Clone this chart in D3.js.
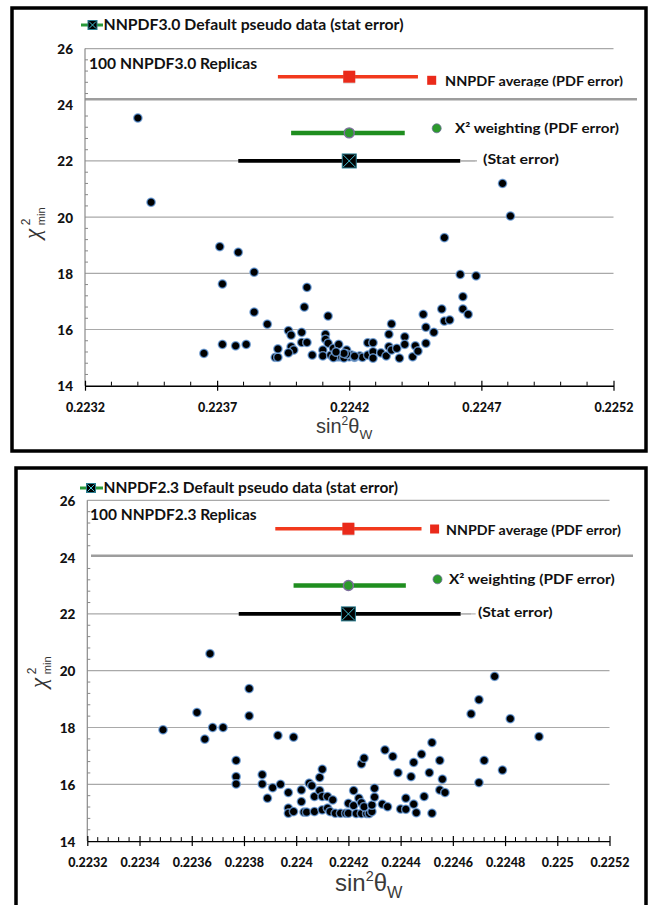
<!DOCTYPE html>
<html><head><meta charset="utf-8">
<script src="https://cdn.jsdelivr.net/npm/d3@7"></script>
<style>html,body{margin:0;padding:0;background:#fff;} svg{display:block}</style>
</head><body>
<svg id="chart" width="649" height="905"></svg>
<script>
// ---------- data ----------
const yTicks = [14, 16, 18, 20, 22, 24, 26];
const xTicks30 = [0.2232, 0.2237, 0.2242, 0.2247, 0.2252];
const xTicks23 = [0.2232, 0.2234, 0.2236, 0.2238, 0.224, 0.2242, 0.2244, 0.2246, 0.2248, 0.225, 0.2252];

const estimateLabels = ["NNPDF average (PDF error)", "X\u00B2 weighting (PDF error)", "(Stat error)"];
const estimateChi2 = [25, 23, 22];

const nnpdf30Centre = [0.2242, 0.2242, 0.2242];
const nnpdf30Low = [0.22393, 0.22398, 0.22378];
const nnpdf30High = [0.22446, 0.22441, 0.22462];

const nnpdf23Centre = [0.2242, 0.2242, 0.2242];
const nnpdf23Low = [0.22392, 0.22399, 0.22378];
const nnpdf23High = [0.22448, 0.22442, 0.22463];

// NNPDF3.0 replicas: sin^2(theta_W) at the chi^2 minimum, and the minimum chi^2
const nnpdf30Sin2 = [
  0.22340, 0.22345, 0.22371, 0.22378, 0.22384, 0.22372, 0.22404, 0.22403, 0.22384, 0.22389,
  0.22412, 0.22365, 0.22372, 0.22377, 0.22381, 0.22392, 0.22393, 0.22393, 0.22397, 0.22398,
  0.22398, 0.22399, 0.22397, 0.22402, 0.22402, 0.22404, 0.22406, 0.22411, 0.22411, 0.22412,
  0.22410, 0.22410, 0.22413, 0.22414, 0.22415, 0.22416, 0.22416, 0.22417, 0.22419, 0.22420,
  0.22421, 0.22422, 0.22424, 0.22425, 0.22427, 0.22429, 0.22427, 0.22429, 0.22429, 0.22432,
  0.22434, 0.22435, 0.22435, 0.22436, 0.22436, 0.22438, 0.22439, 0.22441, 0.22441, 0.22444,
  0.22445, 0.22446, 0.22448, 0.22449, 0.22449, 0.22452, 0.22455, 0.22456, 0.22458, 0.22463,
  0.22465, 0.22463, 0.22462, 0.22468, 0.22456, 0.22478, 0.22481, 0.22414, 0.22418, 0.22419,
  0.22422, 0.22418, 0.22415
];
const nnpdf30Chi2 = [
  23.53, 20.53, 18.95, 18.75, 18.04, 17.62, 17.50, 16.80, 16.62, 16.19,
  16.48, 15.15, 15.47, 15.42, 15.47, 15.01, 15.01, 15.31, 15.96, 15.80,
  15.39, 15.27, 15.17, 15.90, 15.54, 15.54, 15.09, 15.83, 15.65, 15.51,
  15.27, 15.06, 15.09, 15.33, 15.03, 15.47, 15.03, 15.03, 15.27, 15.03,
  15.09, 15.01, 15.06, 15.01, 15.53, 15.53, 15.09, 15.21, 14.98, 15.17,
  15.06, 15.83, 15.39, 15.27, 16.20, 15.33, 14.98, 15.74, 15.47, 15.03,
  15.42, 15.23, 16.54, 16.08, 15.51, 15.90, 16.73, 16.30, 16.34, 16.73,
  16.54, 17.17, 17.96, 17.91, 19.27, 21.20, 20.04, 15.00, 14.99, 15.12,
  15.05, 15.15, 15.20
];

// NNPDF2.3 replicas
const nnpdf23Sin2 = [
  0.22367, 0.22349, 0.22362, 0.22365, 0.22368, 0.22372, 0.22382, 0.22382, 0.22377, 0.22377,
  0.22377, 0.22393, 0.22399, 0.22387, 0.22387, 0.22391, 0.22389, 0.22394, 0.22397, 0.22397,
  0.22397, 0.22399, 0.22402, 0.22402, 0.22403, 0.22404, 0.22405, 0.22406, 0.22407, 0.22407,
  0.22409, 0.22409, 0.22410, 0.22410, 0.22410, 0.22412, 0.22412, 0.22414, 0.22413, 0.22415,
  0.22417, 0.22419, 0.22420, 0.22420, 0.22422, 0.22422, 0.22423, 0.22425, 0.22427, 0.22428,
  0.22424, 0.22425, 0.22426, 0.22425, 0.22426, 0.22429, 0.22429, 0.22430, 0.22430, 0.22433,
  0.22435, 0.22434, 0.22437, 0.22439, 0.22440, 0.22442, 0.22442, 0.22444, 0.22445, 0.22445,
  0.22446, 0.22448, 0.22449, 0.22451, 0.22452, 0.22452, 0.22455, 0.22456, 0.22455, 0.22457,
  0.22467, 0.22470, 0.22476, 0.22482, 0.22493, 0.22472, 0.22470, 0.22479
];
const nnpdf23Chi2 = [
  20.60, 17.92, 18.53, 17.59, 18.00, 18.00, 19.37, 18.41, 16.84, 16.27,
  16.01, 17.72, 17.66, 16.34, 16.01, 15.88, 15.51, 16.00, 15.71, 15.16,
  14.98, 15.04, 15.80, 15.39, 15.02, 15.02, 16.04, 15.95, 15.57, 15.04,
  15.78, 16.24, 16.53, 15.10, 15.57, 15.57, 15.16, 15.45, 15.04, 14.98,
  14.98, 14.98, 14.98, 15.33, 15.25, 15.78, 14.97, 14.97, 14.97, 14.97,
  15.51, 15.35, 15.21, 16.72, 16.92, 15.04, 15.27, 15.55, 15.86, 15.30,
  15.21, 17.21, 16.98, 16.41, 15.13, 15.12, 15.51, 16.27, 16.77, 15.30,
  15.00, 17.06, 15.57, 16.41, 17.47, 14.98, 16.84, 16.18, 15.80, 15.71,
  18.48, 18.98, 19.80, 18.31, 17.68, 16.84, 16.06, 16.50
];

// ---------- layout ----------
const panels = [
  {
    name: "NNPDF3.0", sin2: nnpdf30Sin2, chi2: nnpdf30Chi2,
    centre: nnpdf30Centre, low: nnpdf30Low, high: nnpdf30High,
    xTicks: xTicks30, minorPerMajor: 5,
    frame: [12, 8, 634, 443],
    xRange: [85, 613.5], yRange: [385.7, 48.6],
    title: {x: 103.5, y: 30, w: 300, mx: 92.5, my: 25, lx0: 81, lx1: 103},
    replicas: {x: 89, y: 69, w: 168},
    legendX: [445, 455, 483], legendW: [178, 164, 76], legendY: [85.5, 133, 164],
    redKey: [431.7, 80.3], greenKey: [436.7, 128.3],
    legendClipBottom: 86.5,
    rule: {y: 99.3, x0: 85, x1: 637},
    coverBox: [477, 108, 150, 68],
    xTitle: {x: 316, y: 433, size: 20},
    yTitle: {x: 40, y: 239, size: 23}
  },
  {
    name: "NNPDF2.3", sin2: nnpdf23Sin2, chi2: nnpdf23Chi2,
    centre: nnpdf23Centre, low: nnpdf23Low, high: nnpdf23High,
    xTicks: xTicks23, minorPerMajor: 5,
    frame: [16, 468, 630, 460],
    xRange: [87.3, 609.5], yRange: [841.1, 500.3],
    title: {x: 103.5, y: 493, w: 294.5, mx: 91, my: 488, lx0: 80, lx1: 103},
    replicas: {x: 90, y: 520, w: 166.6},
    legendX: [446, 449, 478], legendW: [175, 165.6, 74.6], legendY: [535, 584, 617],
    redKey: [434.6, 529], greenKey: [437.5, 579.3],
    legendClipBottom: null,
    rule: {y: 555.7, x0: 91, x1: 633},
    coverBox: [471, 562, 150, 66],
    xTitle: {x: 335, y: 891, size: 24},
    yTitle: {x: 46, y: 688, size: 23}
  }
];

const svg = d3.select("#chart");
const defs = svg.append("defs");

// soft blue halo around each replica marker
const grad = defs.append("radialGradient").attr("id", "dotGlow");
grad.append("stop").attr("offset", "0%").attr("stop-color", "#000");
grad.append("stop").attr("offset", "56%").attr("stop-color", "#000");
grad.append("stop").attr("offset", "70%").attr("stop-color", "#3a6aa3");
grad.append("stop").attr("offset", "85%").attr("stop-color", "#7fa7d6").attr("stop-opacity", 0.75);
grad.append("stop").attr("offset", "100%").attr("stop-color", "#b9d0ec").attr("stop-opacity", 0);

const boldFont = "Lato, 'Open Sans', sans-serif";

function statMarker(g, cx, cy, s) {
  g.append("rect").attr("x", cx - s / 2).attr("y", cy - s / 2).attr("width", s).attr("height", s)
    .attr("fill", "#000").attr("stroke", "#2b7f92").attr("stroke-width", 1);
  g.append("path")
    .attr("d", `M${cx - s / 2 + 1},${cy - s / 2 + 1}L${cx + s / 2 - 1},${cy + s / 2 - 1}M${cx + s / 2 - 1},${cy - s / 2 + 1}L${cx - s / 2 + 1},${cy + s / 2 - 1}`)
    .attr("stroke", "#45c3d6").attr("stroke-width", 1);
}

panels.forEach((p, pi) => {
  const g = svg.append("g");
  const x = d3.scaleLinear().domain([xTicks30[0], xTicks30[xTicks30.length - 1]]).range(p.xRange);
  const y = d3.scaleLinear().domain([yTicks[0], yTicks[yTicks.length - 1]]).range(p.yRange);
  const [X0, X1] = p.xRange;

  // frame
  g.append("rect").attr("x", p.frame[0]).attr("y", p.frame[1]).attr("width", p.frame[2]).attr("height", p.frame[3])
    .attr("fill", "none").attr("stroke", "#000").attr("stroke-width", 3.5);

  // horizontal gridlines
  g.selectAll(".grid").data(yTicks.filter(v => v !== 24 && v !== 14)).join("line")
    .attr("x1", X0).attr("x2", X1).attr("y1", d => y(d)).attr("y2", d => y(d))
    .attr("stroke", "#a9a9a9").attr("stroke-width", 1.2);

  // wide separator rule near chi2 = 24
  g.append("line").attr("x1", p.rule.x0).attr("x2", p.rule.x1).attr("y1", p.rule.y).attr("y2", p.rule.y)
    .attr("stroke", "#9d9d9d").attr("stroke-width", 2.5);

  // white key box on the right
  g.append("rect").attr("x", p.coverBox[0]).attr("y", p.coverBox[1]).attr("width", p.coverBox[2]).attr("height", p.coverBox[3])
    .attr("fill", "#fff");

  // y axis
  g.append("line").attr("x1", X0).attr("x2", X0).attr("y1", y(26)).attr("y2", y(14))
    .attr("stroke", "#8a8a8a").attr("stroke-width", 1.2);
  const yMinor = d3.range(0, 31).map(i => 14 + i * 0.4).filter(v => Math.abs(v / 2 - Math.round(v / 2)) > 1e-6);
  g.selectAll(".ymin").data(yMinor).join("line")
    .attr("x1", X0).attr("x2", X0 + 3).attr("y1", d => y(d)).attr("y2", d => y(d))
    .attr("stroke", "#888").attr("stroke-width", 1);
  g.selectAll(".ylab").data(yTicks).join("text")
    .attr("x", X0 - 12).attr("y", d => y(d) + 5.5)
    .attr("text-anchor", "end").attr("font-family", boldFont).attr("font-weight", 900)
    .attr("font-size", 13.5).attr("fill", "#111").text(d => d);

  // x axis
  const axisY = y(14);
  const xAxis = d3.axisBottom(x).tickValues(p.xTicks).tickSizeInner(5).tickSizeOuter(0).tickPadding(12)
    .tickFormat(d => String(d));
  const ax = g.append("g").attr("transform", `translate(0,${axisY})`).call(xAxis);
  ax.select(".domain").attr("stroke", "#000").attr("stroke-width", 1.4);
  ax.selectAll(".tick line").attr("y1", -5).attr("y2", 5).attr("stroke", "#000").attr("stroke-width", 1.2);
  ax.selectAll(".tick text").attr("font-family", boldFont).attr("font-weight", 900)
    .attr("font-size", 12.5).attr("fill", "#111");
  const majorStep = p.xTicks[1] - p.xTicks[0];
  const nMinor = (p.xTicks.length - 1) * p.minorPerMajor;
  const xMinor = d3.range(0, nMinor + 1).filter(i => i % p.minorPerMajor !== 0)
    .map(i => p.xTicks[0] + i * majorStep / p.minorPerMajor);
  g.selectAll(".xmin").data(xMinor).join("line")
    .attr("x1", d => x(d)).attr("x2", d => x(d)).attr("y1", axisY).attr("y2", axisY - 4)
    .attr("stroke", "#000").attr("stroke-width", 1);

  // axis titles
  const xt = g.append("text").attr("x", p.xTitle.x).attr("y", p.xTitle.y)
    .attr("font-family", "'Liberation Sans', Arial, sans-serif").attr("font-size", p.xTitle.size).attr("fill", "#3a3a3a");
  xt.append("tspan").text("sin");
  xt.append("tspan").attr("dy", -p.xTitle.size * 0.42).attr("font-size", p.xTitle.size * 0.6).text("2");
  xt.append("tspan").attr("dy", p.xTitle.size * 0.42).text("\u03B8");
  xt.append("tspan").attr("dy", p.xTitle.size * 0.3).attr("font-size", p.xTitle.size * 0.68).text("W");

  const ys = p.yTitle.size;
  const yt = g.append("g").attr("transform", `translate(${p.yTitle.x},${p.yTitle.y}) rotate(-90)`);
  yt.append("text").attr("x", 0).attr("y", 0).attr("font-family", "'Liberation Serif', 'DejaVu Serif', serif")
    .attr("font-style", "italic").attr("font-size", ys).attr("fill", "#333").text("\u03C7");
  yt.append("text").attr("x", ys * 0.6).attr("y", -ys * 0.42).attr("font-family", "'Liberation Sans', sans-serif")
    .attr("font-size", 12).attr("fill", "#333").text("2");
  yt.append("text").attr("x", ys * 0.6).attr("y", ys * 0.22).attr("font-family", "'Liberation Sans', sans-serif")
    .attr("font-size", 11).attr("fill", "#333").text("min");

  // replica points
  const pts = p.sin2.map((s, i) => ({s, c: p.chi2[i]}));
  g.selectAll(".pt").data(pts).join("circle")
    .attr("cx", d => x(d.s)).attr("cy", d => y(d.c)).attr("r", 5.4)
    .attr("fill", "url(#dotGlow)");

  // error bars: NNPDF average (red), chi2 weighting (green), default pseudo data (black)
  const barColours = ["#f2391d", "#1f8e1f", "#000"];
  const barWidths = [3.5, 4.5, 3.8];
  estimateChi2.forEach((c, i) => {
    g.append("line").attr("x1", x(p.low[i])).attr("x2", x(p.high[i])).attr("y1", y(c)).attr("y2", y(c))
      .attr("stroke", barColours[i]).attr("stroke-width", barWidths[i]);
  });
  // grey tail of the stat-error line
  g.append("line").attr("x1", x(p.high[2])).attr("x2", x(p.high[2]) + 15).attr("y1", y(22)).attr("y2", y(22))
    .attr("stroke", "#b5b5b5").attr("stroke-width", 1.2);
  g.append("rect").attr("x", x(p.centre[0]) - 6).attr("y", y(25) - 5).attr("width", 12).attr("height", 12)
    .attr("fill", "#bbb").attr("opacity", 0.5);
  g.append("rect").attr("x", x(p.centre[0]) - 6).attr("y", y(25) - 6).attr("width", 12).attr("height", 12)
    .attr("fill", "#ea2a1a");
  g.append("circle").attr("cx", x(p.centre[1])).attr("cy", y(23)).attr("r", 5)
    .attr("fill", "#2c9a2c").attr("stroke", "#7d6e9e").attr("stroke-width", 1.4);
  statMarker(g, x(p.centre[2]), y(22), 14);

  // key entries
  g.append("rect").attr("x", p.redKey[0] - 4.5).attr("y", p.redKey[1] - 4.5).attr("width", 9).attr("height", 9)
    .attr("fill", "#ea2a1a");
  g.append("circle").attr("cx", p.greenKey[0]).attr("cy", p.greenKey[1]).attr("r", 4.5)
    .attr("fill", "#2c9a2c").attr("stroke", "#6f6f9a").attr("stroke-width", 0.8);

  let keyParent = g;
  if (p.legendClipBottom !== null) {
    const cid = "keyclip" + pi;
    defs.append("clipPath").attr("id", cid).append("rect")
      .attr("x", 0).attr("y", 0).attr("width", 649).attr("height", p.legendClipBottom);
    keyParent = g.append("g").attr("clip-path", `url(#${cid})`);
  }
  estimateLabels.forEach((lab, i) => {
    const par = i === 0 ? keyParent : g;
    par.append("text").attr("x", p.legendX[i]).attr("y", p.legendY[i])
      .attr("font-family", boldFont).attr("font-weight", 700).attr("font-size", 14).attr("fill", "#111")
      .attr("textLength", p.legendW[i]).attr("lengthAdjust", "spacingAndGlyphs").text(lab);
  });

  // header entry
  g.append("line").attr("x1", p.title.lx0).attr("x2", p.title.lx1).attr("y1", p.title.my).attr("y2", p.title.my)
    .attr("stroke", "#2a9a3a").attr("stroke-width", 3);
  statMarker(g, p.title.mx, p.title.my, 9);
  g.append("text").attr("x", p.title.x).attr("y", p.title.y)
    .attr("font-family", boldFont).attr("font-weight", 700).attr("font-size", 16).attr("fill", "#111")
    .attr("textLength", p.title.w).attr("lengthAdjust", "spacingAndGlyphs")
    .text(`${p.name} Default pseudo data (stat error)`);

  g.append("text").attr("x", p.replicas.x).attr("y", p.replicas.y)
    .attr("font-family", boldFont).attr("font-weight", 700).attr("font-size", 16).attr("fill", "#111")
    .attr("textLength", p.replicas.w).attr("lengthAdjust", "spacingAndGlyphs")
    .text(`100 ${p.name} Replicas`);
});
</script>
</body></html>
